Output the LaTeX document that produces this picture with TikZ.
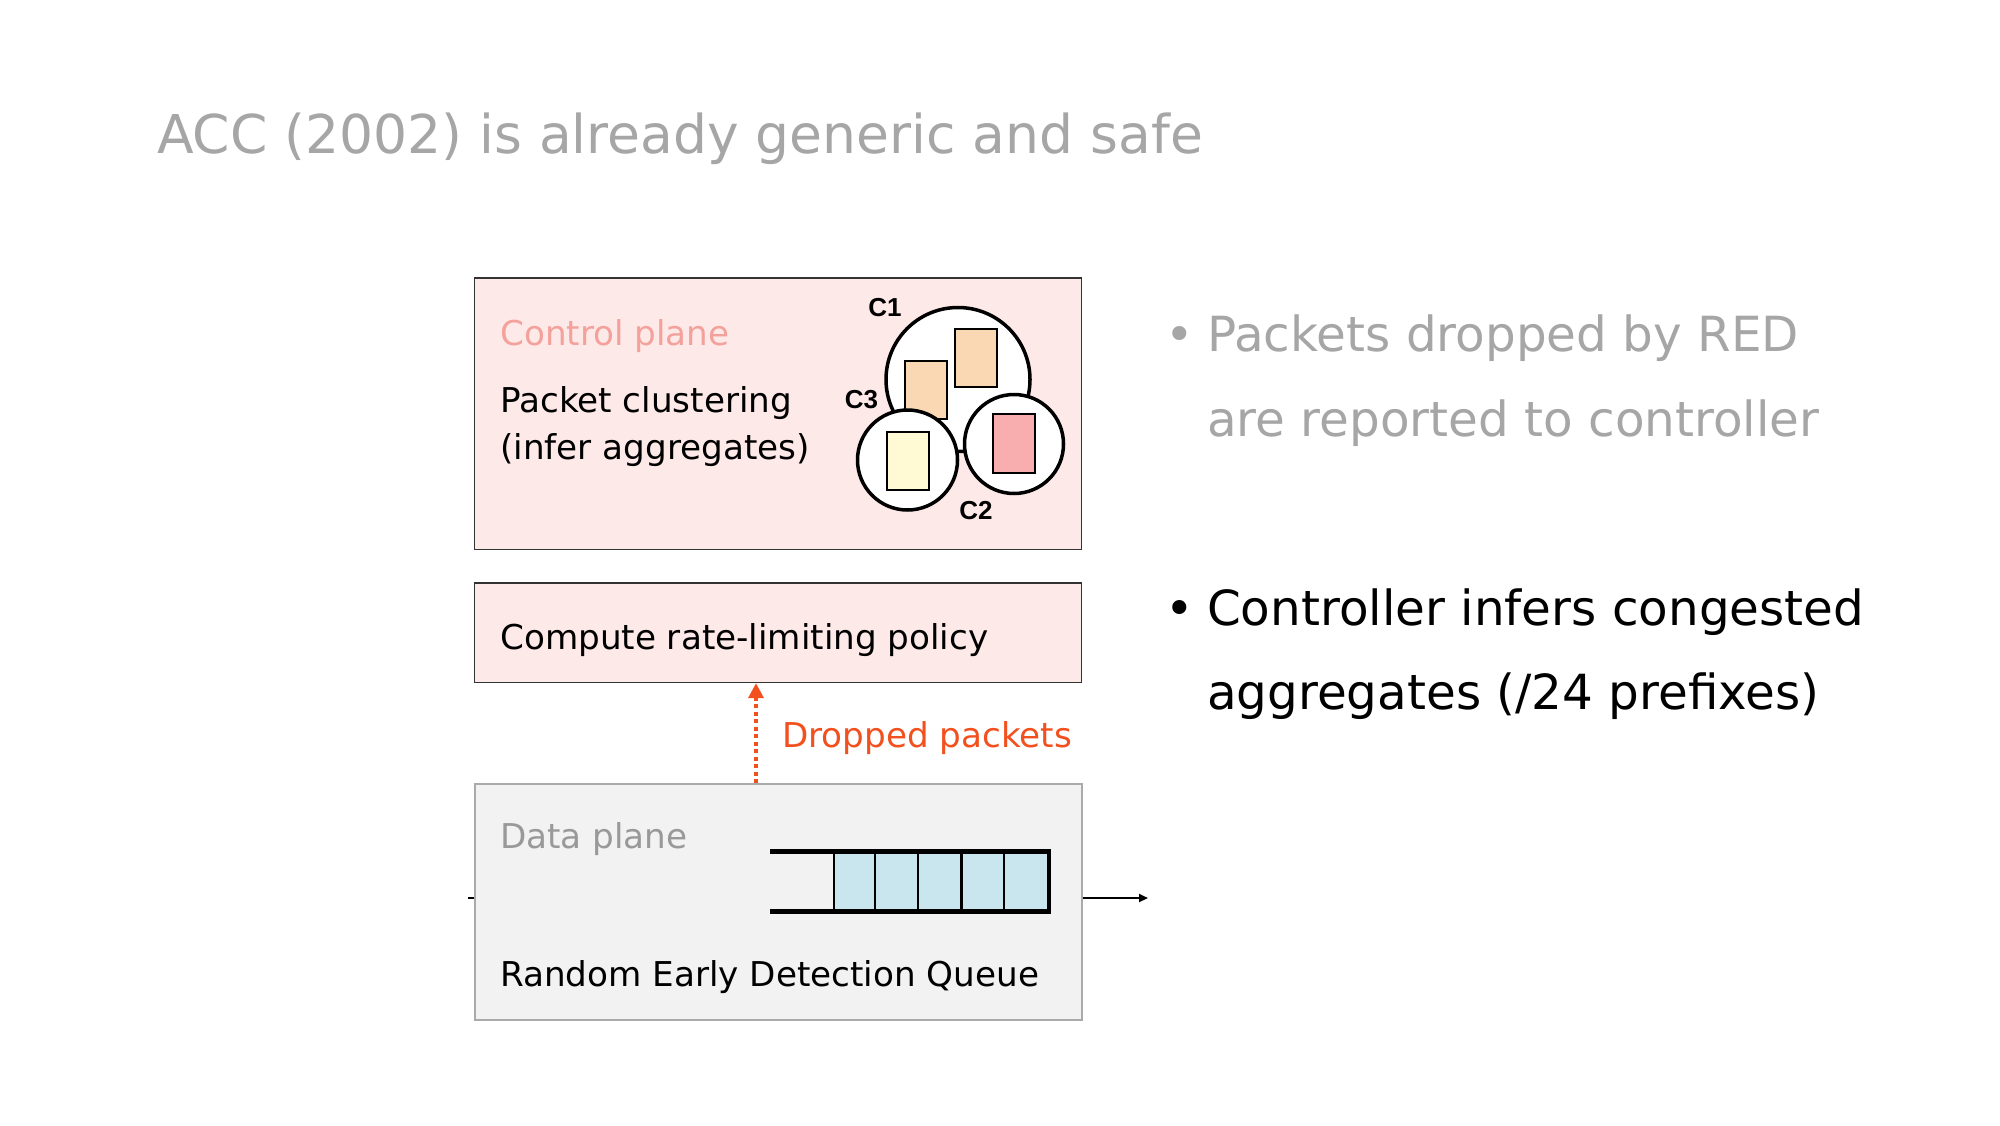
\documentclass[tikz,border=0pt]{standalone}
\usepackage{fontspec}
\setmainfont{DejaVu Sans}
\newfontfamily\clabfont{Liberation Sans}
\usetikzlibrary{arrows.meta}
\definecolor{titlegray}{HTML}{A6A6A6}
\definecolor{cpfill}{HTML}{FDE9E8}
\definecolor{cptext}{HTML}{F4A19C}
\definecolor{dpfill}{HTML}{F2F2F2}
\definecolor{dpborder}{HTML}{AAAAAA}
\definecolor{dptext}{HTML}{999999}
\definecolor{qblue}{HTML}{C9E5EE}
\definecolor{droporange}{HTML}{F2501E}
\definecolor{peach}{HTML}{FAD8B4}
\definecolor{paleyellow}{HTML}{FFF9D4}
\definecolor{rosepink}{HTML}{F8ADAF}
\begin{document}
\begin{tikzpicture}[x=1pt,y=-1pt,
  txt/.style={anchor=base west, inner sep=0pt, font=\fontsize{34.2}{40}\selectfont},
  bigtxt/.style={anchor=base west, inner sep=0pt, font=\fontsize{48.4}{56}\selectfont},
  boxcp/.style={draw=black!80, line width=1.5pt, fill=cpfill, minimum width=607.1pt, inner sep=0pt},
  boxdp/.style={draw=dpborder, line width=2pt, fill=dpfill, minimum width=607.1pt, inner sep=0pt},
  cluster/.style={draw=black, line width=3.5pt, fill=white, circle, inner sep=0pt},
  pkt/.style={draw=black, line width=2pt, minimum width=42pt, minimum height=58.5pt, inner sep=0pt},
  clab/.style={font=\clabfont\bfseries\fontsize{26}{30}\selectfont, inner sep=0pt},
  qline/.style={line width=4.5pt, line cap=rect},
  qdiv/.style={line width=2.5pt}
]
\useasboundingbox[fill=white] (0,0) rectangle (2000,1125);

% title
\node[anchor=base west, inner sep=0pt, text=titlegray, font=\fontsize{53.5}{62}\selectfont] (title) at (157,153) {ACC (2002) is already generic and safe};

% input / output reference points
\coordinate (inl) at (468,898);
\coordinate (outr) at (1148,898);

% boxes
\node[boxcp, minimum height=271.7pt] (cp) at (778.05,413.85) {};
\node[boxcp, minimum height=99.4pt] (cr) at (778.05,632.7) {};
\draw[line width=2pt] (inl) -- (474.5,898) coordinate (inr);
\node[boxdp, minimum height=236pt] (dp) at (778.05,902.4) {};

% control plane texts
\node[txt, text=cptext] (cptitle) at (500,345.7) {Control plane};
\node[txt] (pc1) at (500,412) {Packet clustering};
\node[txt] (pc2) at (500,459) {(infer aggregates)};

% clusters
\node[cluster, minimum size=144pt] (c1) at (958,379.5) {};
\node[pkt, fill=peach] (p1) at (926.3,389.9) {};
\node[pkt, fill=peach] (p2) at (976.1,357.8) {};
\node[cluster, minimum size=100pt] (c3) at (907.5,460) {};
\node[pkt, fill=paleyellow] (p3) at (907.5,461) {};
\node[cluster, minimum size=99pt] (c2) at (1014,444) {};
\node[pkt, fill=rosepink] (p4) at (1013.6,443.4) {};
\node[clab] (l1) at (885,307.5) {C1};
\node[clab] (l3) at (861.5,400) {C3};
\node[clab] (l2) at (976,511) {C2};

% compute box text
\node[txt] (crt) at (500,649) {Compute rate-limiting policy};

% dropped packets arrow
\coordinate (ax) at (756,0);
\draw[droporange, line width=3.5pt, dash pattern=on 4pt off 3.5pt,
      -{Triangle[length=15pt,width=15pt,sep=0pt]}] (dp.north -| ax) -- (cr.south -| ax);
\node[txt, text=droporange] (dropl) at (782,747) {Dropped packets};

% data plane texts
\node[txt, text=dptext] (dpt) at (500,848) {Data plane};
\node[txt] (red) at (500,986) {Random Early Detection Queue};

% queue
\fill[qblue] (834,851.3) rectangle (1049,911.5);
\foreach \x in {834,874.9,918.2,961.5,1003.9} \draw[qdiv] (\x,851.3) -- (\x,911.5);
\draw[qline] (772,851.3) -- (1049,851.3) -- (1049,911.5) -- (772,911.5);

% output arrow
\draw[line width=2pt, -{Triangle[length=9pt,width=8pt]}] (dp.east |- outr) -- (outr);

% bullets
\node[bigtxt, text=titlegray] (b1) at (1165,351) {•};
\node[bigtxt, text=titlegray] (t1a) at (1207,351) {Packets dropped by RED};
\node[bigtxt, text=titlegray] (t1b) at (1207,436) {are reported to controller};
\node[bigtxt] (b2) at (1165,625) {•};
\node[bigtxt] (t2a) at (1207,625) {Controller infers congested};
\node[bigtxt] (t2b) at (1207,709) {aggregates (/24 prefixes)};
\end{tikzpicture}
\end{document}
